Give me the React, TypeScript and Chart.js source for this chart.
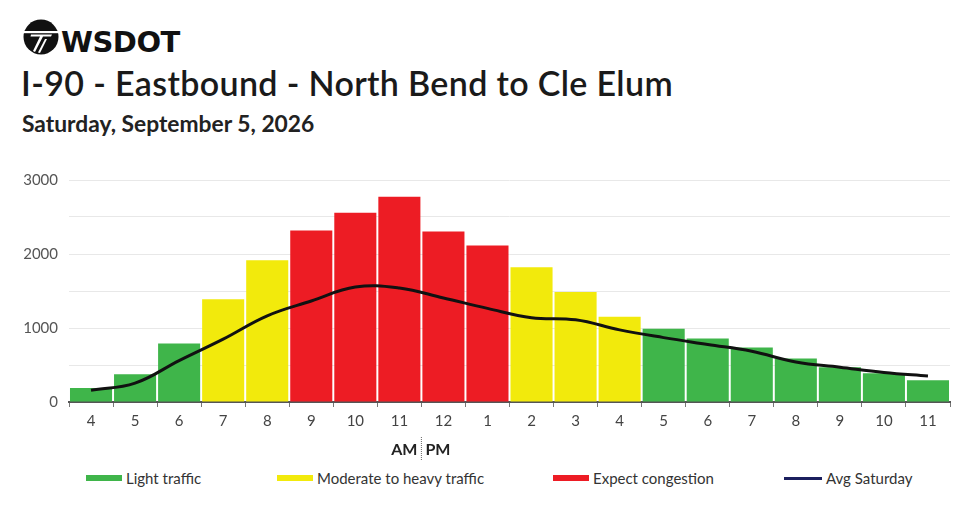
import React, { useEffect, useRef } from "react";
import { Chart, registerables } from "chart.js";

Chart.register(...registerables);

const hours = ["4", "5", "6", "7", "8", "9", "10", "11", "12", "1", "2", "3", "4", "5", "6", "7", "8", "9", "10", "11"];
const volumes = [190, 375, 790, 1390, 1915, 2317, 2558, 2772, 2303, 2116, 1821, 1487, 1152, 991, 857, 737, 589, 469, 388, 295];
const levels = ["L", "L", "L", "M", "M", "H", "H", "H", "H", "H", "M", "M", "M", "L", "L", "L", "L", "L", "L", "L"];
const avgSaturday = [160, 255, 560, 850, 1165, 1365, 1553, 1540, 1406, 1265, 1140, 1110, 975, 870, 777, 685, 540, 470, 400, 350];
const yTicks = [0, 1000, 2000, 3000];

const GREEN = "#3fb54a";
const YELLOW = "#f2ea0c";
const RED = "#ed1c24";
const NAVY = "#1b1f5e";
const levelColor: Record<string, string> = { L: GREEN, M: YELLOW, H: RED };

const legendItems = [
  { label: "Light traffic", color: GREEN, left: 86, w: 36, h: 6 },
  { label: "Moderate to heavy traffic", color: YELLOW, left: 277, w: 36, h: 6 },
  { label: "Expect congestion", color: RED, left: 553, w: 36, h: 6 },
  { label: "Avg Saturday", color: NAVY, left: 784, w: 38, h: 3 },
];

const amPmPlugin = {
  id: "ampm",
  afterDraw(chart: any) {
    const x = chart.scales.x;
    const ctx = chart.ctx;
    const sep = (x.getPixelForValue(7) + x.getPixelForValue(8)) / 2;
    ctx.save();
    ctx.strokeStyle = "#666";
    ctx.lineWidth = 1;
    ctx.setLineDash([1, 1]);
    ctx.beginPath();
    ctx.moveTo(sep, 277);
    ctx.lineTo(sep, 302);
    ctx.stroke();
    ctx.setLineDash([]);
    ctx.fillStyle = "#222";
    ctx.font = "bold 16px Lato";
    ctx.textBaseline = "alphabetic";
    ctx.textAlign = "right";
    ctx.fillText("AM", sep - 4, 295);
    ctx.textAlign = "left";
    ctx.fillText("PM", sep + 4, 295);
    ctx.restore();
  },
};

function TrafficChart() {
  const ref = useRef<HTMLCanvasElement | null>(null);
  useEffect(() => {
    if (!ref.current) return;
    Chart.defaults.font.family = "Lato";
    const chart = new Chart(ref.current, {
      type: "bar",
      data: {
        labels: hours,
        datasets: [
          {
            type: "line",
            label: "Avg Saturday",
            data: avgSaturday,
            borderColor: "#111",
            borderWidth: 3,
            pointRadius: 0,
            tension: 0.4,
            fill: false,
            order: 0,
          } as any,
          {
            type: "bar",
            label: "Volume",
            data: volumes,
            backgroundColor: levels.map((l) => levelColor[l]),
            borderWidth: 0,
            barPercentage: 0.955,
            categoryPercentage: 1,
            order: 1,
          },
        ],
      },
      options: {
        animation: false,
        responsive: false,
        maintainAspectRatio: false,
        layout: { padding: { left: 0, right: 30, top: 19, bottom: 0 } },
        plugins: { legend: { display: false }, tooltip: { enabled: false } },
        scales: {
          x: {
            offset: true,
            grid: {
              display: true,
              offset: true,
              drawOnChartArea: false,
              drawTicks: true,
              tickLength: 5,
              tickColor: "#777",
            },
            border: { display: true, color: "#555", width: 2 },
            ticks: { color: "#444", font: { size: 15 }, padding: 5, maxRotation: 0, autoSkip: false },
            afterFit: (s: any) => {
              s.height = 58;
            },
          },
          y: {
            min: 0,
            max: 3000,
            ticks: {
              stepSize: 500,
              color: "#555",
              font: { size: 15 },
              padding: 11,
              callback: (v: any) => (yTicks.includes(Number(v)) ? String(v) : ""),
            },
            grid: { color: "#e8e8e8", lineWidth: 1, drawTicks: false },
            border: { display: false },
            afterFit: (s: any) => {
              s.width = 69;
            },
          },
        },
      },
      plugins: [amPmPlugin],
    });
    return () => chart.destroy();
  }, []);
  return (
    <canvas
      ref={ref}
      width={980}
      height={300}
      style={{ position: "absolute", left: 0, top: 160, width: 980, height: 300 }}
    />
  );
}

function Logo() {
  return (
    <svg width={36} height={36} viewBox="0 0 36 36" style={{ position: "absolute", left: 23, top: 19 }}>
      <circle cx={18} cy={18} r={17.5} fill="#111" />
      <rect x={0} y={12} width={36} height={2.2} fill="#fff" />
      <polygon points="8,15.5 29,15.5 28,17.5 20,17.5 12,33 10,32 17,17.5 7.5,17.5" fill="#fff" />
      <polygon points="22,20 24,20 17,34 15,33.5" fill="#fff" />
    </svg>
  );
}

export default function App() {
  return (
    <div
      style={{
        position: "fixed",
        left: 0,
        top: 0,
        width: 980,
        height: 508,
        background: "#fff",
        fontFamily: "Lato, sans-serif",
        overflow: "hidden",
      }}
    >
      <Logo />
      <div
        style={{
          position: "absolute",
          left: 61,
          top: 28,
          fontFamily: "'DejaVu Sans', sans-serif",
          fontWeight: 700,
          fontSize: 29,
          lineHeight: 1,
          color: "#111",
          letterSpacing: -0.5,
        }}
      >
        WSDOT
      </div>
      <div
        style={{
          position: "absolute",
          left: 21,
          top: 66,
          fontSize: 34,
          fontWeight: 600,
          lineHeight: 1,
          letterSpacing: 0.35,
          color: "#1a1a1a",
          whiteSpace: "nowrap",
        }}
      >
        I-90 - Eastbound - North Bend to Cle Elum
      </div>
      <div
        style={{
          position: "absolute",
          left: 22,
          top: 112,
          fontSize: 22.8,
          fontWeight: 700,
          lineHeight: 1,
          color: "#222",
          whiteSpace: "nowrap",
        }}
      >
        Saturday, September 5, 2026
      </div>
      <TrafficChart />
      {legendItems.map((it) => (
        <div
          key={it.label}
          style={{
            position: "absolute",
            left: it.left,
            top: 470,
            height: 16,
            display: "flex",
            alignItems: "center",
            whiteSpace: "nowrap",
          }}
        >
          <span style={{ display: "inline-block", width: it.w, height: it.h, background: it.color, marginRight: 4 }} />
          <span style={{ fontSize: 15, color: "#333" }}>{it.label}</span>
        </div>
      ))}
    </div>
  );
}
